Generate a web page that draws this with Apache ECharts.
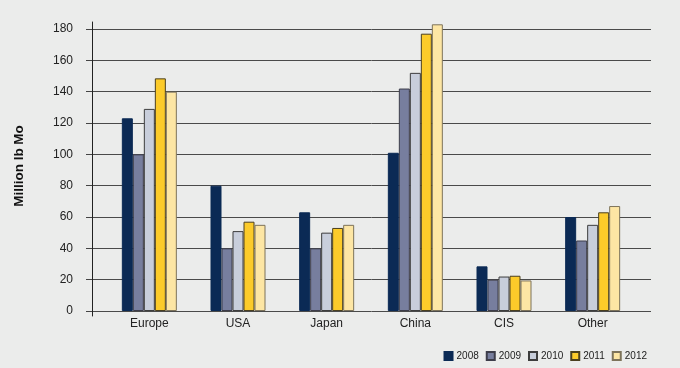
<!DOCTYPE html>
<html>
<head>
<meta charset="utf-8">
<script src="https://cdn.jsdelivr.net/npm/echarts@6/dist/echarts.min.js"></script>
<style>
html,body{margin:0;padding:0;background:#ebeceb;}
#c{width:680px;height:368px;}
</style>
</head>
<body>
<div id="c"></div>
<script>
const categories = ['Europe', 'USA', 'Japan', 'China', 'CIS', 'Other'];
const years = ['2008', '2009', '2010', '2011', '2012'];
const v2008 = [123, 80, 63, 101, 28.5, 60];
const v2009 = [100, 40, 40, 142, 20, 45];
const v2010 = [129, 51, 50, 152, 22, 55];
const v2011 = [148.5, 57, 53, 177, 22.5, 63];
const v2012 = [140, 55, 55, 183, 19.5, 67];
const yTicks = { min: 0, max: 180, interval: 20 };
const yTitle = 'Million lb Mo';

const seriesValues = [v2008, v2009, v2010, v2011, v2012];
const colors = ['#0b2a55', '#777e9e', '#c8cedb', '#fccb2a', '#fde6a4'];
const borders = ['#0b2a55', '#3d3d4a', '#3d3d3d', '#4a3f1e', '#7d735a'];

const chart = echarts.init(document.getElementById('c'), null, { renderer: 'canvas' });
const font = 'Liberation Sans, Arial, sans-serif';

chart.setOption({
  backgroundColor: '#ebeceb',
  animation: false,
  textStyle: { fontFamily: font },
  grid: [
    { left: 92, right: 29, top: 29, bottom: 57, containLabel: false, outerBoundsMode: 'none' },
    { left: 105, right: 43, top: 29, bottom: 57, containLabel: false, outerBoundsMode: 'none' },
    { left: 92, right: 29, top: 22, bottom: 52, containLabel: false, outerBoundsMode: 'none' }
  ],
  legend: {
    right: 28, top: 346,
    itemWidth: 8, itemHeight: 8, itemGap: 7,
    icon: 'rect',
    textStyle: { fontSize: 10, color: '#222', fontFamily: font, padding: [0, 0, 0, -1] },
    data: years
  },
  xAxis: [
    { gridIndex: 0, type: 'value', min: 0, max: 1, show: false },
    {
      gridIndex: 1, type: 'category', data: categories,
      axisLine: { show: false }, axisTick: { show: false },
      axisLabel: { fontSize: 12, color: '#222', margin: 7, fontFamily: font }
    },
    { gridIndex: 2, type: 'value', min: 0, max: 1, show: false }
  ],
  yAxis: [
    {
      gridIndex: 0, type: 'value', min: yTicks.min, max: yTicks.max, interval: yTicks.interval,
      axisLine: { show: false },
      axisTick: { show: true, length: 6, lineStyle: { color: '#444' } },
      axisLabel: { fontSize: 12, color: '#222', margin: 19, fontFamily: font },
      splitLine: { show: true, lineStyle: { color: '#4a4a4a', width: 1 } },
      name: yTitle, nameLocation: 'middle', nameGap: 66, nameRotate: 90,
      nameTextStyle: { fontSize: 13.5, fontWeight: 'bold', color: '#111', fontFamily: font, padding: [0, 0, 0, 8] }
    },
    {
      gridIndex: 1, type: 'value', min: yTicks.min, max: yTicks.max, interval: yTicks.interval,
      show: false, splitLine: { show: false }
    },
    {
      gridIndex: 2, type: 'value', min: 0, max: 1,
      axisLine: { show: true, lineStyle: { color: '#222', width: 1 } },
      axisTick: { show: false }, axisLabel: { show: false }, splitLine: { show: false }
    }
  ],
  series: years.map((y, i) => ({
    name: y,
    type: 'bar',
    xAxisIndex: 1, yAxisIndex: 1,
    data: seriesValues[i],
    barWidth: 11,
    barGap: '0%',
    clip: false,
    itemStyle: { color: colors[i], borderColor: borders[i], borderWidth: 1 },
    emphasis: { disabled: true }
  }))
});
</script>
</body>
</html>
